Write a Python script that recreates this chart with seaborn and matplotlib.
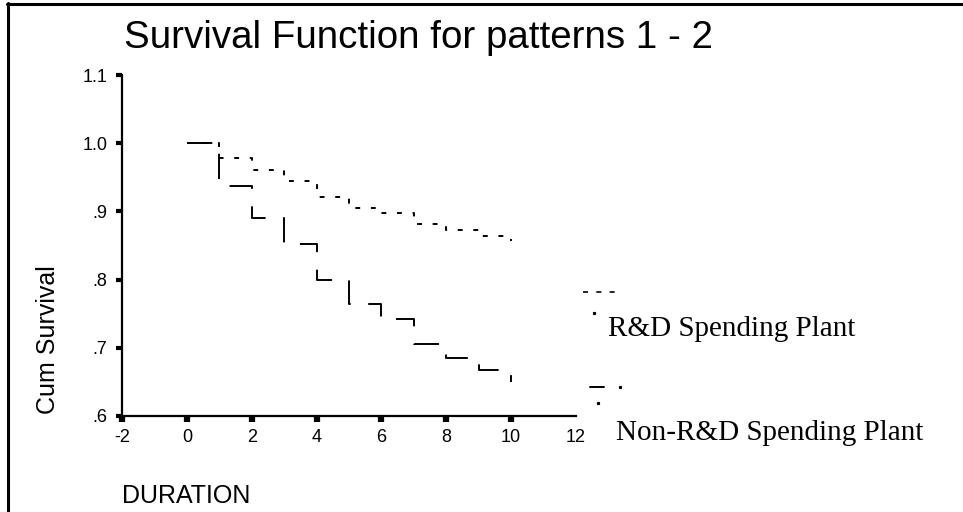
import matplotlib
matplotlib.use("Agg")
import matplotlib.pyplot as plt
from matplotlib.lines import Line2D
import seaborn as sns
import pandas as pd

# ---- data ----
duration = [0, 1, 2, 3, 4, 5, 6, 7, 8, 9, 10]
rd_survival = [1.0, 0.978, 0.960, 0.945, 0.921, 0.905, 0.897, 0.881, 0.873, 0.864, 0.856]
nonrd_survival = [1.0, 0.937, 0.891, 0.852, 0.800, 0.764, 0.742, 0.706, 0.685, 0.667, 0.650]
series_names = ["R&D Spending Plant", "Non-R&D Spending Plant"]
x_ticks = [-2, 0, 2, 4, 6, 8, 10, 12]
y_ticks = [0.6, 0.7, 0.8, 0.9, 1.0, 1.1]
y_ticklabels = [".6", ".7", ".8", ".9", "1.0", "1.1"]

df = pd.DataFrame({
    "DURATION": duration * 2,
    "Cum Survival": rd_survival + nonrd_survival,
    "group": [series_names[0]] * len(duration) + [series_names[1]] * len(duration),
})

sns.set_theme(style="white")
plt.rcParams["font.family"] = ["Liberation Sans", "DejaVu Sans"]

W, H = 963, 512
fig = plt.figure(figsize=(W / 100, H / 100), dpi=100)
fig.patch.set_facecolor("white")

def fx(px):
    return px / W

def fy(py):
    return 1 - py / H

ax = fig.add_axes([fx(122), fy(416), fx(576) - fx(122), fy(75) - fy(416)])
ax.set_facecolor("white")

dash_map = {series_names[0]: (2.5, 5.5), series_names[1]: (13, 9)}
sns.lineplot(data=df, x="DURATION", y="Cum Survival", hue="group", style="group",
             palette={series_names[0]: "black", series_names[1]: "black"},
             dashes=dash_map, drawstyle="steps-post", estimator=None,
             linewidth=1.4, legend=False, ax=ax)

ax.set_xlim(-2, 12)
ax.set_ylim(0.6, 1.1)
ax.set_xticks(x_ticks)
ax.set_xticklabels([str(t) for t in x_ticks])
ax.set_yticks(y_ticks)
ax.set_yticklabels(y_ticklabels)
ax.set_xlabel("")
ax.set_ylabel("")

for s in ["top", "right"]:
    ax.spines[s].set_visible(False)
for s in ["left", "bottom"]:
    ax.spines[s].set_color("black")
    ax.spines[s].set_linewidth(1.6)

ax.tick_params(axis="x", direction="out", length=4.5, width=4.5, color="black",
               labelsize=13, pad=5, labelcolor="black", bottom=True)
ax.tick_params(axis="y", direction="out", length=4.5, width=3, color="black",
               labelsize=13, pad=6, labelcolor="black", left=True)
ax.xaxis.get_major_ticks()[-1].tick1line.set_visible(False)

# title and axis labels
fig.text(fx(124), fy(48), "Survival Function for patterns 1 - 2", fontsize=27.7,
         ha="left", va="baseline", color="black")
fig.text(fx(48), fy(340), "Cum Survival", fontsize=18, rotation=90,
         ha="center", va="center", color="black")
fig.text(fx(122), fy(503), "DURATION", fontsize=18, ha="left", va="baseline",
         color="black")

# legend
serif = ["Liberation Serif", "DejaVu Serif"]
fig.text(fx(608), fy(336), series_names[0], fontsize=21, family=serif,
         ha="left", va="baseline", color="black")
fig.text(fx(616), fy(440), series_names[1], fontsize=21, family=serif,
         ha="left", va="baseline", color="black")
fig.add_artist(Line2D([fx(583), fx(620)], [fy(292), fy(292)], transform=fig.transFigure,
                      color="black", linewidth=1.2, dashes=(3, 5)))
fig.add_artist(Line2D([fx(590), fx(604)], [fy(387), fy(387)], transform=fig.transFigure,
                      color="black", linewidth=1.4))
for (px, py) in [(594, 313), (620, 387), (598, 403)]:
    fig.add_artist(Line2D([fx(px)], [fy(py)], transform=fig.transFigure, marker="s",
                          markersize=1.3, color="black", linestyle="none"))

# frame of the scanned page
fig.add_artist(Line2D([fx(8), fx(8)], [fy(3), fy(512)], transform=fig.transFigure,
                      color="black", linewidth=2.2))
fig.add_artist(Line2D([fx(7), fx(963)], [fy(4), fy(4)], transform=fig.transFigure,
                      color="black", linewidth=2.2))

fig.savefig("out.png", dpi=100, facecolor="white")
